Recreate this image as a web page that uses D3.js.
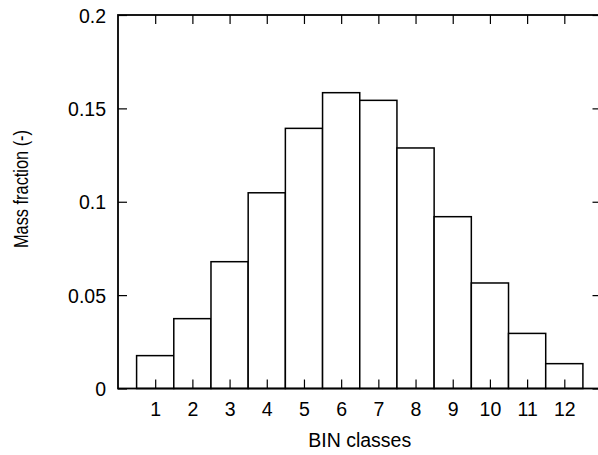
<!DOCTYPE html>
<html>
<head>
<meta charset="utf-8">
<script src="https://cdn.jsdelivr.net/npm/d3@7"></script>
<style>
  html, body { margin: 0; padding: 0; background: #fff; }
  svg { display: block; }
  text { font-family: "Liberation Sans", Arial, Helvetica, sans-serif; fill: #000; }
</style>
</head>
<body>
<svg id="chart" width="598" height="455"></svg>
<script>
// BIN class numbers and their mass fractions
const binClasses = [1, 2, 3, 4, 5, 6, 7, 8, 9, 10, 11, 12];
const massFraction = [0.0176, 0.0374, 0.0679, 0.1048, 0.1393, 0.1584, 0.1543, 0.1288, 0.0920, 0.0565, 0.0295, 0.0133];
const yTickValues = [0, 0.05, 0.1, 0.15, 0.2];
const xLabel = "BIN classes";
const yLabel = "Mass fraction (-)";

const svg = d3.select("#chart");
const plotLeft = 118, plotRight = 601.5, plotTop = 15, plotBottom = 388.5;
const tickLen = 9;

const x = d3.scaleLinear().domain([0, 13]).range([plotLeft, plotRight]);
const y = d3.scaleLinear().domain([0, 0.2]).range([plotBottom, plotTop]);

// histogram boxes, one unit wide, centred on each class
svg.append("g")
  .selectAll("rect")
  .data(binClasses)
  .join("rect")
  .attr("x", d => x(d - 0.5))
  .attr("width", d => x(d + 0.5) - x(d - 0.5))
  .attr("y", (d, i) => y(massFraction[i]))
  .attr("height", (d, i) => y(0) - y(massFraction[i]))
  .attr("fill", "#fff")
  .attr("stroke", "#000")
  .attr("stroke-width", 1.5);

// inward ticks on all four sides
const fontSize = "19.5px";
const gBottom = svg.append("g").attr("transform", `translate(0,${plotBottom})`)
  .call(d3.axisBottom(x).tickValues(binClasses).tickFormat(d3.format("d"))
    .tickSize(-tickLen).tickPadding(14));
const gLeft = svg.append("g").attr("transform", `translate(${plotLeft},0)`)
  .call(d3.axisLeft(y).tickValues(yTickValues).tickFormat(d3.format("~g"))
    .tickSize(-tickLen).tickPadding(12));
const gTop = svg.append("g").attr("transform", `translate(0,${plotTop})`)
  .call(d3.axisTop(x).tickValues(binClasses).tickFormat("").tickSize(-tickLen));
const gRight = svg.append("g").attr("transform", `translate(${plotRight},0)`)
  .call(d3.axisRight(y).tickValues(yTickValues).tickFormat("").tickSize(-tickLen));

[gBottom, gLeft, gTop, gRight].forEach(g => {
  g.select(".domain").remove();
  g.selectAll(".tick line").attr("stroke", "#000").attr("stroke-width", 1.2);
  g.selectAll(".tick text").style("font-size", fontSize).attr("fill", "#000");
});
gLeft.selectAll(".tick text").attr("dy", "0.36em");

// plot frame
svg.append("rect")
  .attr("x", plotLeft).attr("y", plotTop)
  .attr("width", plotRight - plotLeft).attr("height", plotBottom - plotTop)
  .attr("fill", "none").attr("stroke", "#000").attr("stroke-width", 1.8);

// axis titles
svg.append("text")
  .attr("x", (plotLeft + plotRight) / 2).attr("y", 447.3)
  .attr("text-anchor", "middle")
  .style("font-size", fontSize)
  .text(xLabel);

svg.append("text")
  .attr("transform", "translate(28.3,189) rotate(-90)")
  .attr("text-anchor", "middle")
  .attr("textLength", 118)
  .attr("lengthAdjust", "spacingAndGlyphs")
  .style("font-size", "19.5px")
  .text(yLabel);
</script>
</body>
</html>
